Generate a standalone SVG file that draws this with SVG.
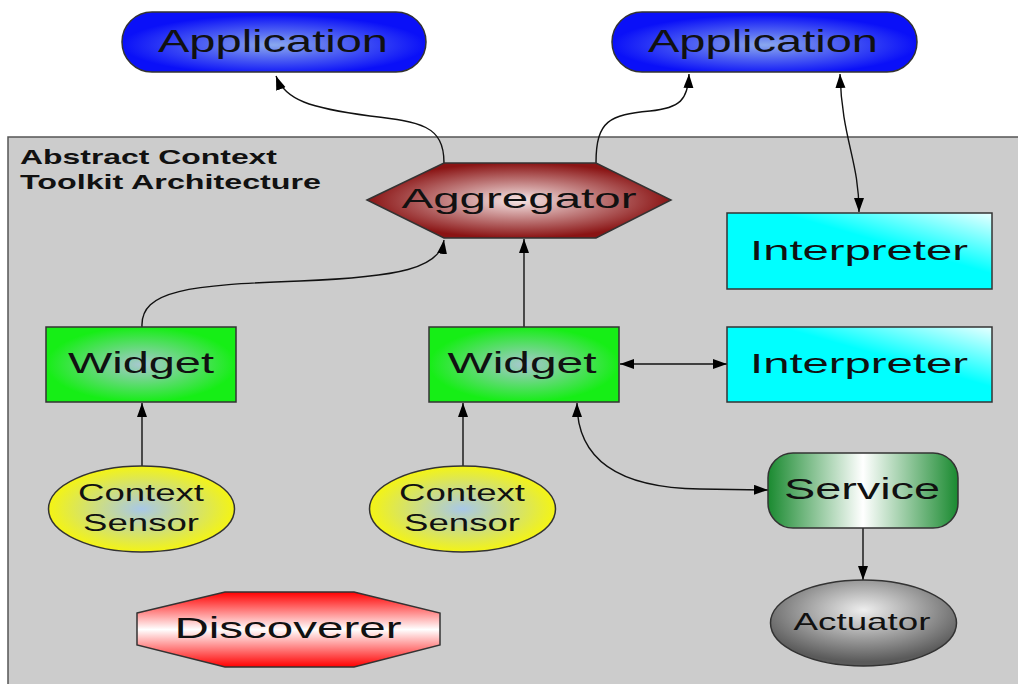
<svg xmlns="http://www.w3.org/2000/svg" width="1018" height="684" viewBox="0 0 1018 684">
<style>
.n{stroke:#333;stroke-width:1.5}
.t{font-family:"Liberation Sans",Arial,sans-serif;fill:#111;text-anchor:middle}
.c{fill:none;stroke:#111;stroke-width:1.4}
.h{font-family:"Liberation Sans",Arial,sans-serif;font-weight:bold;fill:#111}
</style>
<defs>
<marker id="ah" markerUnits="userSpaceOnUse" markerWidth="16" markerHeight="12" refX="14" refY="5" orient="auto-start-reverse"><path d="M0,0 L14,5 L0,10 z" fill="#000"/></marker>
<radialGradient id="gApp" cx="0.5" cy="0.55" r="0.5"><stop offset="0" stop-color="#8aa8ee"/><stop offset="1" stop-color="#0a10f8"/></radialGradient>
<radialGradient id="gAgg" cx="0.5" cy="0.5" r="0.5"><stop offset="0" stop-color="#f6e6e6"/><stop offset="1" stop-color="#8a1414"/></radialGradient>
<linearGradient id="gInt" x1="0" y1="1" x2="1" y2="0"><stop offset="0" stop-color="#00ffff"/><stop offset="0.6" stop-color="#00ffff"/><stop offset="1" stop-color="#e8ffff"/></linearGradient>
<radialGradient id="gWid" cx="0.5" cy="0.5" r="0.5"><stop offset="0" stop-color="#a8c8d0"/><stop offset="1" stop-color="#16ee16"/></radialGradient>
<radialGradient id="gSen" cx="0.5" cy="0.5" r="0.5"><stop offset="0" stop-color="#a8c8e8"/><stop offset="1" stop-color="#f4f414"/></radialGradient>
<linearGradient id="gDis" x1="0" y1="0" x2="0" y2="1"><stop offset="0" stop-color="#ff0000"/><stop offset="0.5" stop-color="#ffffff"/><stop offset="1" stop-color="#ff0000"/></linearGradient>
<linearGradient id="gSer" x1="0" y1="0" x2="1" y2="0"><stop offset="0" stop-color="#1a8a30"/><stop offset="0.5" stop-color="#ffffff"/><stop offset="1" stop-color="#1a8a30"/></linearGradient>
<radialGradient id="gAct" cx="0.5" cy="0.35" r="0.6"><stop offset="0" stop-color="#eeeeee"/><stop offset="1" stop-color="#5a5a5a"/></radialGradient>
</defs>
<rect x="8" y="137" width="1020" height="560" fill="#cccccc" stroke="#555" stroke-width="1.5"/>
<text class="h" x="20" y="164" font-size="20.5" textLength="257" lengthAdjust="spacingAndGlyphs">Abstract Context</text>
<text class="h" x="20" y="189" font-size="20.5" textLength="301" lengthAdjust="spacingAndGlyphs">Toolkit Architecture</text>
<g id="connectors">
<path class="c" d="M444,163 C444,125 420,122 370,116 C310,108 285,100 276,76" marker-end="url(#ah)"/>
<path class="c" d="M596,163 C596,120 610,115 650,111 C680,108 688,100 689,74" marker-end="url(#ah)"/>
<path class="c" d="M840,74 C842,140 859,160 859,212" marker-start="url(#ah)" marker-end="url(#ah)"/>
<path class="c" d="M142,327 C140,290 190,285 300,281 C400,277 440,268 444,240" marker-end="url(#ah)"/>
<path class="c" d="M524,327 L524,239" marker-end="url(#ah)"/>
<path class="c" d="M142,466 L142,403" marker-end="url(#ah)"/>
<path class="c" d="M463,466 L463,403" marker-end="url(#ah)"/>
<path class="c" d="M620,364 L727,364" marker-start="url(#ah)" marker-end="url(#ah)"/>
<path class="c" d="M577,403 C577,460 620,488 700,489 L768,490" marker-start="url(#ah)" marker-end="url(#ah)"/>
<path class="c" d="M863,528 L863,580" marker-end="url(#ah)"/>
</g>
<g id="app1"><rect class="n" x="122" y="12" width="304" height="60" rx="30" fill="url(#gApp)"/><text class="t" x="273" y="52" font-size="32" textLength="230" lengthAdjust="spacingAndGlyphs">Application</text></g>
<g id="app2"><rect class="n" x="612" y="12" width="305" height="60" rx="30" fill="url(#gApp)"/><text class="t" x="763" y="52" font-size="32" textLength="230" lengthAdjust="spacingAndGlyphs">Application</text></g>
<g id="aggregator"><polygon class="n" points="367,200 444,163 596,163 671,200 596,238 444,238" fill="url(#gAgg)"/><text class="t" x="519" y="208" font-size="28" textLength="235" lengthAdjust="spacingAndGlyphs">Aggregator</text></g>
<g id="interpreter1"><rect class="n" x="727" y="213" width="265" height="76" fill="url(#gInt)"/><text class="t" x="859" y="260" font-size="28" textLength="218" lengthAdjust="spacingAndGlyphs">Interpreter</text></g>
<g id="widget1"><rect class="n" x="46" y="327" width="190" height="75" fill="url(#gWid)"/><text class="t" x="141" y="373" font-size="29" textLength="146" lengthAdjust="spacingAndGlyphs">Widget</text></g>
<g id="widget2"><rect class="n" x="429" y="327" width="190" height="75" fill="url(#gWid)"/><text class="t" x="522" y="373" font-size="29" textLength="149" lengthAdjust="spacingAndGlyphs">Widget</text></g>
<g id="interpreter2"><rect class="n" x="727" y="327" width="265" height="75" fill="url(#gInt)"/><text class="t" x="859" y="373" font-size="28" textLength="218" lengthAdjust="spacingAndGlyphs">Interpreter</text></g>
<g id="sensor1"><ellipse class="n" cx="141.5" cy="509" rx="93" ry="43" fill="url(#gSen)"/><text class="t" x="141" y="501" font-size="23" textLength="126" lengthAdjust="spacingAndGlyphs">Context</text><text class="t" x="141" y="531" font-size="23" textLength="116" lengthAdjust="spacingAndGlyphs">Sensor</text></g>
<g id="sensor2"><ellipse class="n" cx="462.5" cy="509" rx="93" ry="43" fill="url(#gSen)"/><text class="t" x="462" y="501" font-size="23" textLength="126" lengthAdjust="spacingAndGlyphs">Context</text><text class="t" x="462" y="531" font-size="23" textLength="116" lengthAdjust="spacingAndGlyphs">Sensor</text></g>
<g id="service"><rect class="n" x="768" y="453" width="190" height="75" rx="25" fill="url(#gSer)"/><text class="t" x="862" y="499" font-size="30" textLength="156" lengthAdjust="spacingAndGlyphs">Service</text></g>
<g id="discoverer"><polygon class="n" points="137,613 225,592 354,592 440,613 440,645 354,667 225,667 137,645" fill="url(#gDis)"/><text class="t" x="288" y="638" font-size="29" textLength="227" lengthAdjust="spacingAndGlyphs">Discoverer</text></g>
<g id="actuator"><ellipse class="n" cx="863.5" cy="623" rx="93" ry="43" fill="url(#gAct)"/><text class="t" x="862" y="630" font-size="24" textLength="137" lengthAdjust="spacingAndGlyphs">Actuator</text></g>
</svg>
